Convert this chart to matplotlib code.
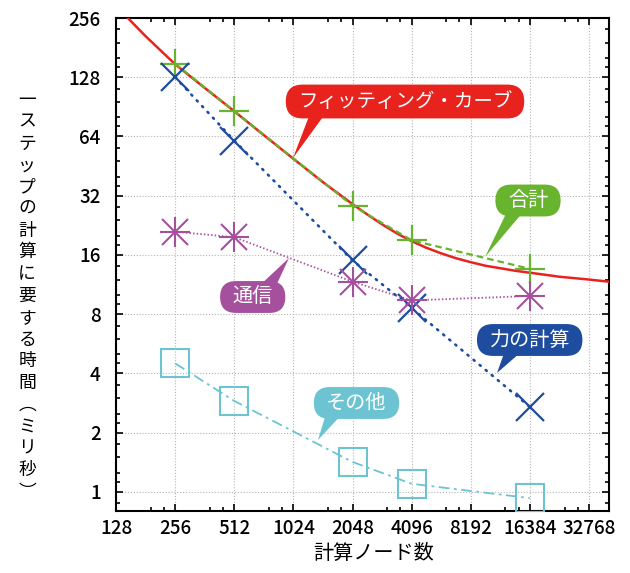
import matplotlib
matplotlib.use("Agg")
import matplotlib.pyplot as plt
from matplotlib.patches import BoxStyle
from matplotlib.ticker import FixedLocator, FixedFormatter, NullFormatter

plt.rcParams['font.family'] = ['Noto Sans CJK JP', 'DejaVu Sans']

# measured step times (ms) per node count
nodes = [256, 512, 2048, 4096, 16384]
total_ms = [150, 86, 28.5, 19, 13.6]
force_ms = [128, 61, 15, 8.6, 2.7]
comm_ms = [21, 19.7, 11.7, 9.4, 9.9]
other_ms = [4.5, 2.9, 1.42, 1.1, 0.93]

# fitting curve (denser where it bends)
fit_nodes = [147, 181, 256, 362, 512, 724, 1024, 1448, 2048, 2435, 2896, 3444,
             4096, 4871, 5793, 6889, 8192, 9742, 11585, 13777, 16384, 23170,
             32768, 41400]
fit_ms = [256, 207, 149, 113, 86, 65, 49.3, 37.5, 29.0, 25.7, 22.9, 20.6,
          18.8, 17.4, 16.3, 15.4, 14.7, 14.1, 13.7, 13.3, 13.0, 12.4,
          12.0, 11.7]

x_ticks = [128, 256, 512, 1024, 2048, 4096, 8192, 16384, 32768]
y_ticks = [1, 2, 4, 8, 16, 32, 64, 128, 256]
x_minor_mult = [1.5, 1.75]
y_minor_mult = [1.125, 1.25, 1.5, 1.75]

RED = '#e8231e'
GREEN = '#68b42e'
BLUE = '#1e4c9e'
PURPLE = '#a5509d'
CYAN = '#6cc4d3'

W, H = 630, 573
fig = plt.figure(figsize=(W / 100, H / 100), dpi=100)
ax = fig.add_axes([116 / W, 1 - 511 / H, (609 - 116) / W, (511 - 18) / H])
ax.set_xscale('log', base=2)
ax.set_yscale('log', base=2)
ax.set_xlim(128, 41400)
ax.set_ylim(0.80, 256)

ax.plot(fit_nodes, fit_ms, color=RED, lw=1.8, zorder=3)
ax.plot(nodes, total_ms, color=GREEN, lw=1.6, dashes=(3, 1.8),
        marker='+', ms=21, mew=1.6, zorder=4)
ax.plot(nodes, force_ms, color=BLUE, lw=1.9, linestyle=(0, (0.5, 2.5)),
        dash_capstyle='round', marker='x', ms=20, mew=1.6, zorder=4)
ax.plot(nodes, comm_ms, color=PURPLE, lw=1.3, linestyle=(0, (0.8, 1.2)),
        marker='+', ms=21, mew=1.5, zorder=4)
ax.plot(nodes, comm_ms, color=PURPLE, lw=0, marker='x', ms=19, mew=1.5, zorder=4)
ax.plot(nodes, other_ms, color=CYAN, lw=1.3, dashes=(6, 2.5, 1.5, 2.5),
        marker='s', ms=20, mfc='none', mew=1.5, zorder=4)

# ticks
ax.xaxis.set_major_locator(FixedLocator(x_ticks))
ax.xaxis.set_major_formatter(FixedFormatter([str(v) for v in x_ticks]))
ax.yaxis.set_major_locator(FixedLocator(y_ticks))
ax.yaxis.set_major_formatter(FixedFormatter([str(v) for v in y_ticks]))
ax.xaxis.set_minor_locator(FixedLocator([t * m for t in x_ticks for m in x_minor_mult]))
ax.yaxis.set_minor_locator(FixedLocator([t * m for t in [0.5] + y_ticks for m in y_minor_mult]))
ax.xaxis.set_minor_formatter(NullFormatter())
ax.yaxis.set_minor_formatter(NullFormatter())
ax.tick_params(which='both', direction='in', top=True, right=True, width=1.2, colors='black')
ax.tick_params(which='major', length=5)
ax.tick_params(which='minor', length=3)
ax.tick_params(axis='x', labelsize=13.5, pad=6)
ax.tick_params(axis='y', labelsize=13.5, pad=11)
for lbl in ax.get_xticklabels() + ax.get_yticklabels():
    lbl.set_fontweight('medium')
for s in ax.spines.values():
    s.set_linewidth(1.5)
ax.grid(True, which='major', color='#b5b5b5', linestyle=(0, (1, 1.6)), linewidth=0.8)
ax.set_axisbelow(True)

# axis titles
fig.text(374 / W, 1 - 553 / H, '計算ノード数', ha='center', va='center', fontsize=14.5)
ylab = '一ステップの計算に要する時間︵ミリ秒︶'
fig.text(27 / W, 1 - 296 / H, '\n'.join(ylab), ha='center', va='center',
         fontsize=12.8, linespacing=1.27)


def pill(padx, pady):
    def style(x0, y0, width, height, mutation_size):
        x0 -= padx * mutation_size
        width += 2 * padx * mutation_size
        y0 -= pady * mutation_size
        height += 2 * pady * mutation_size
        rnd = BoxStyle.Round(pad=0, rounding_size=height / 2 / mutation_size)
        return rnd(x0, y0, width, height, mutation_size)
    return style


def callout(text, box, base, tip, color, size=14.5, pady=0.27):
    # positions in image pixels, origin top-left
    f = lambda p: (p[0] / W, 1 - p[1] / H)
    ax.annotate('', xy=f(tip), xytext=f(base), xycoords='figure fraction',
                textcoords='figure fraction',
                arrowprops=dict(arrowstyle='wedge,tail_width=1.0', mutation_scale=10,
                                fc=color, ec='none', shrinkA=0, shrinkB=0),
                zorder=6, annotation_clip=False)
    fig.text(*f(box), text, ha='center', va='center', color='white', fontsize=size,
             bbox=dict(boxstyle=pill(0.62, pady), fc=color, ec='none'), zorder=7)


callout('フィッティング・カーブ', (405, 101.5), (318, 112), (293, 158), RED, size=14, pady=0.33)
callout('合計', (528, 200.5), (515, 211), (485, 257), GREEN)
callout('通信', (252.7, 297), (268, 287), (289, 258), PURPLE)
callout('力の計算', (529.7, 340), (512, 351), (497, 373), BLUE)
callout('その他', (356.5, 403), (333, 414), (318, 440), CYAN)

fig.savefig('out.png', dpi=100)
